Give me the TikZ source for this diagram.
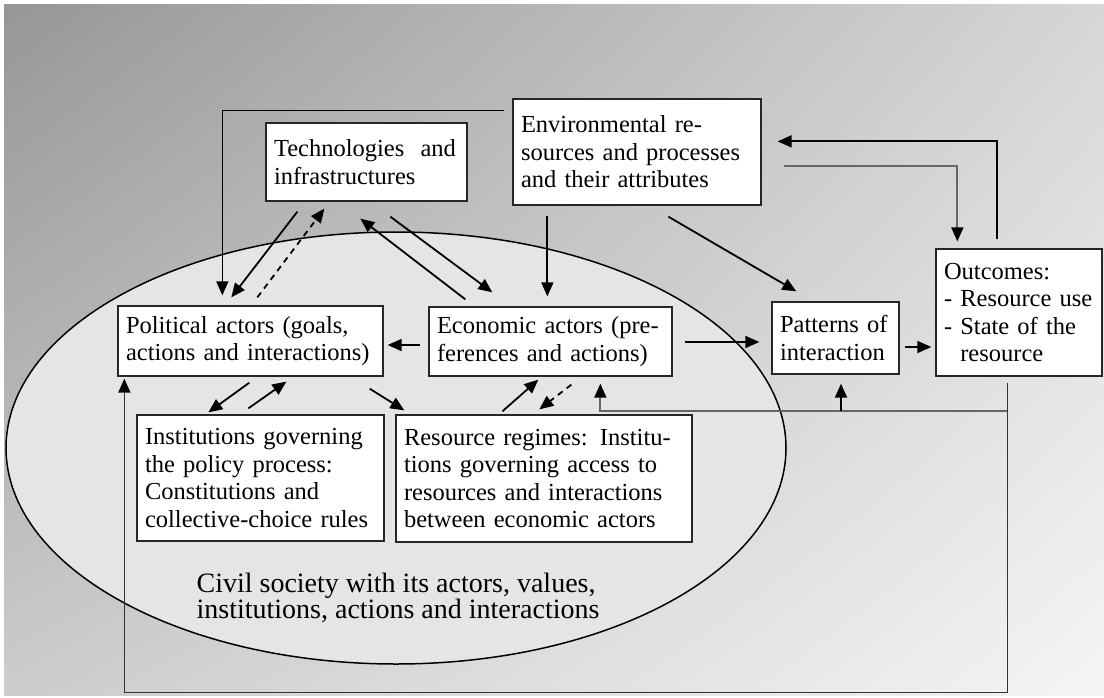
\documentclass[tikz,border=0pt]{standalone}
\usepackage{fontspec}
\setmainfont{Liberation Serif}
\usetikzlibrary{arrows.meta,calc,shadings}

\begin{document}
\begin{tikzpicture}[x=1pt, y=-1pt,
    box/.style={draw=black!85, line width=1.3pt, fill=white, inner xsep=8pt, align=left, font=\fontsize{24.5}{27.5}\selectfont},
    arr/.style={-{Triangle[length=14pt,width=12pt,color=black]}, line width=1.8pt},
    fb/.style={draw=black!60, line width=1.5pt}]
    \useasboundingbox (0,0) rectangle (1104,697);
    % background and civil society
    \shade[upper left=black!41, upper right=black!16, lower left=black!20, lower right=black!4] (4,4) rectangle (1104,695);
    \draw[line width=1.5pt, fill=black!10] (396,448) ellipse [x radius=390pt, y radius=216pt];
    \node[font=\fontsize{28}{25}\selectfont, align=left] (civil) at (398,598) {Civil society with its actors, values,\\institutions, actions and interactions};

    % boxes
    \node[box, text width=185pt, minimum height=78pt] (tech) at (366.5,162) {Technologies\ \ and\\infrastructures};
    \node[box, text width=232pt, minimum height=106pt] (env) at (637,152) {Environmental re-\\sources and processes\\and their attributes};
    \node[box, text width=249pt, minimum height=70pt] (pol) at (250.5,341) {Political actors (goals,\\actions and interactions)};
    \node[box, text width=227pt, minimum height=69pt] (eco) at (550.5,341.5) {Economic actors (pre-\\ferences and actions)};
    \node[box, text width=111pt, minimum height=72pt] (pat) at (835.5,338) {Patterns of\\interaction};
    \node[box, text width=150pt, minimum height=127pt] (out) at (1019,312.5) {Outcomes:\\- Resource use\\- State of the\\\phantom{- }resource};
    \node[box, text width=231pt, minimum height=126pt] (inst) at (260.5,478) {Institutions governing\\the policy process:\\Constitutions and\\collective-choice rules};
    \node[box, text width=280pt, minimum height=127pt] (reg) at (544,478.5) {Resource regimes: Institu-\\tions governing access to\\resources and interactions\\between economic actors};

    % top connectors
    \draw[arr, line width=1.5pt] ($(env.north west)+(-8,12)$) -| ($(pol.north west)+(105,-10)$);
    \draw[arr] ($(tech.south west)+(32,10)$) -- ($(pol.north west)+(114,-8)$);
    \draw[arr, dash pattern=on 6pt off 5pt] ($(pol.north west)+(140,-8)$) -- ($(tech.south west)+(59,7)$);
    \draw[arr] ($(eco.north west)+(37,-7)$) -- ($(tech.south west)+(95,17)$);
    \draw[arr] ($(tech.south west)+(125,15)$) -- ($(eco.north west)+(64,-14)$);
    \draw[arr] ($(env.south west)+(35,10)$) -- ($(eco.north west)+(119,-10)$);
    \draw[arr] ($(env.south west)+(156,11)$) -- ($(pat.north west)+(25,-10)$);

    % loops with outcomes
    \draw[arr] ($(out.north west)+(62,-9)$) |- ($(env.north east)+(16,43)$);
    \draw[fb, arr] ($(env.north east)+(22,68)$) -| ($(out.north west)+(22,-7)$);

    % inside civil society
    \draw[arr] ($(eco.west)+(-8,3.5)$) -- ($(pol.east)+(4,4)$);
    \draw[arr] ($(eco.east)+(12,0.5)$) -- ($(pat.west)+(-12,4)$);
    \draw[arr] ($(pat.east)+(5,9)$) -- ($(out.west)+(-4,34.5)$);
    \draw[arr] ($(pol.south west)+(132,6)$) -- ($(inst.north west)+(72,-2)$);
    \draw[arr] ($(inst.north west)+(112,-6)$) -- ($(pol.south west)+(169,5)$);
    \draw[arr] ($(pol.south east)+(-14,12)$) -- ($(reg.north west)+(9,-4)$);
    \draw[arr] ($(reg.north west)+(107,-3)$) -- ($(eco.south west)+(110,3)$);
    \draw[arr, dash pattern=on 6pt off 5pt] ($(eco.south west)+(143,8)$) -- ($(reg.north west)+(144,-5)$);

    % feedback
    \coordinate (fbk) at ($(out.south west)+(72,34)$);
    \draw[arr, draw=black!80, line width=1.5pt] ($(out.south west)+(72,6)$) -- ($(out.south west)+(72,316)$) -| ($(pol.south west)+(7,2)$);
    \draw[fb, arr] (fbk) -| ($(eco.south west)+(172,7)$);
    \draw[arr] ($(pat.south)+(5.5,36)$) -- ($(pat.south)+(5.5,9)$);
\end{tikzpicture}
\end{document}
